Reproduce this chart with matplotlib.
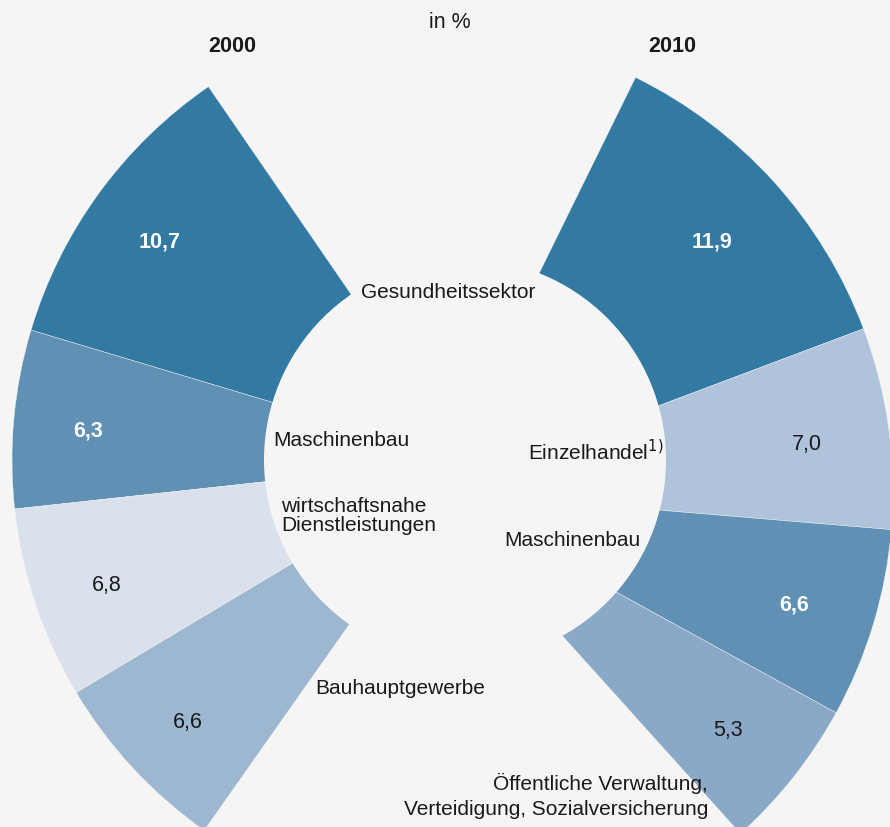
import numpy as np
import matplotlib.pyplot as plt
from matplotlib.patches import Wedge, Circle

# data
values_2000 = [10.7, 6.3, 6.8, 6.6]
labels_2000 = ["Gesundheitssektor", "Maschinenbau",
               "wirtschaftsnahe\nDienstleistungen", "Bauhauptgewerbe"]
colors_2000 = ["#337aa3", "#6091b5", "#d8e1ec", "#9db7d1"]
bold_2000 = [True, True, False, False]

values_2010 = [11.9, 7.0, 6.6, 5.3]
labels_2010 = ["Gesundheitssektor", "Einzelhandel$^{1)}$", "Maschinenbau",
               "Öffentliche Verwaltung,\nVerteidigung, Sozialversicherung"]
colors_2010 = ["#337aa3", "#afc4da", "#6091b5", "#8aa8c7"]
bold_2010 = [True, False, True, False]

BG = "#f5f5f5"
W, H = 890, 827
DEG = 3.63  # degrees per percent
FS = 15

plt.rcParams['font.family'] = ['Liberation Sans', 'DejaVu Sans']

fig = plt.figure(figsize=(W / 100, H / 100), dpi=100, facecolor=BG)
ax = fig.add_axes([0, 0, 1, 1])
ax.set_xlim(0, W)
ax.set_ylim(0, H)
ax.set_facecolor(BG)
ax.axis('off')


def px(x, y):
    return x, H - y


def draw_half(center, radius, start, direction, values, colors, bold):
    ang = start
    for v, c, b in zip(values, colors, bold):
        end = ang + direction * v * DEG
        t1, t2 = min(ang, end), max(ang, end)
        ax.add_patch(Wedge(center, radius, t1, t2, facecolor=c,
                           edgecolor=BG, linewidth=0.3))
        mid = np.radians((t1 + t2) / 2)
        lx = center[0] + 378 * np.cos(mid)
        ly = center[1] + 378 * np.sin(mid) - 5
        ax.text(lx, ly, f"{v:.1f}".replace(".", ","), ha='center', va='center',
                fontsize=FS + 0.5, color='white' if b else '#1a1a1a',
                fontweight='bold' if b else 'normal')
        ang = end


c_left = px(465, 460)
c_right = px(432, 491)
draw_half(c_left, 453, 124.5, 1, values_2000, colors_2000, bold_2000)
draw_half(c_right, 461, 63.8, -1, values_2010, colors_2010, bold_2010)

# hole in the middle
ax.add_patch(Circle(c_left, 201, facecolor=BG, edgecolor='none'))

txt = dict(fontsize=FS, color='#1a1a1a', va='center')
# 2000 labels
ax.text(*px(361, 292), labels_2000[0], ha='left', **txt)
ax.text(*px(273, 441), labels_2000[1], ha='left', **txt)
ax.text(*px(281, 516), labels_2000[2], ha='left', linespacing=0.95, **txt)
ax.text(*px(315, 689), labels_2000[3], ha='left', **txt)
# 2010 labels
ax.text(*px(663, 452), labels_2010[1], ha='right', **txt)
ax.text(*px(641, 541), labels_2010[2], ha='right', **txt)
ax.text(*px(708, 796), labels_2010[3], ha='right', linespacing=1.45, **txt)

ax.text(*px(450, 22), "in %", ha='center', va='center', fontsize=FS + 0.5,
        color='#1a1a1a')
ax.text(*px(232, 46), "2000", ha='center', va='center', fontsize=FS + 0.5,
        fontweight='bold', color='#1a1a1a')
ax.text(*px(672, 46), "2010", ha='center', va='center', fontsize=FS + 0.5,
        fontweight='bold', color='#1a1a1a')

fig.savefig("out.png", dpi=100, facecolor=BG)
